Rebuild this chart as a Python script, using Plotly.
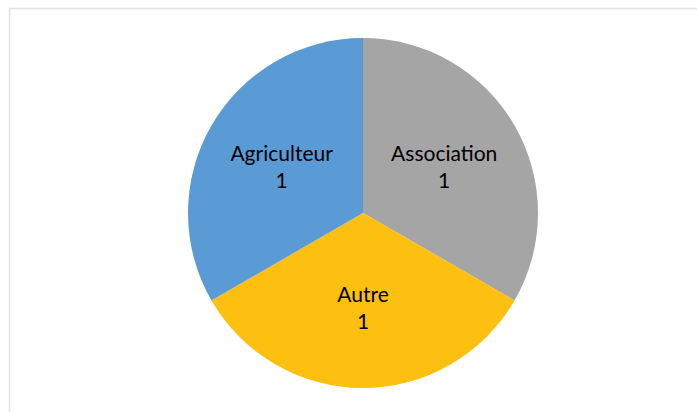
import plotly.graph_objects as go

labels = ["Association", "Autre", "Agriculteur"]
values = [1, 1, 1]
colors = ["#a5a5a5", "#fdc010", "#5b9bd5"]

W, H = 697, 412
fig = go.Figure(go.Pie(
    labels=labels, values=values, sort=False, direction="clockwise", rotation=0,
    marker=dict(colors=colors, line=dict(width=0)),
    textinfo="label+value", textposition="inside", insidetextorientation="horizontal",
    texttemplate="%{label}<br>%{value}",
    textfont=dict(family="Lato", size=21, color="#000000"),
    domain=dict(x=[188 / W, 538 / W], y=[(H - 388) / H, (H - 38) / H]),
    showlegend=False, hoverinfo="label+value",
))
fig.update_layout(
    width=W, height=H, margin=dict(l=0, r=0, t=0, b=0),
    paper_bgcolor="white", plot_bgcolor="white",
    shapes=[dict(type="rect", xref="paper", yref="paper",
                 x0=9.5 / W, x1=1.02, y0=-0.02, y1=(H - 8.5) / H,
                 line=dict(color="#dde1e6", width=1.5), fillcolor="rgba(0,0,0,0)")],
)
fig.write_html("out.html", config={"displayModeBar": False},
               post_script="document.body.style.margin='0';document.body.style.overflow='hidden';")
